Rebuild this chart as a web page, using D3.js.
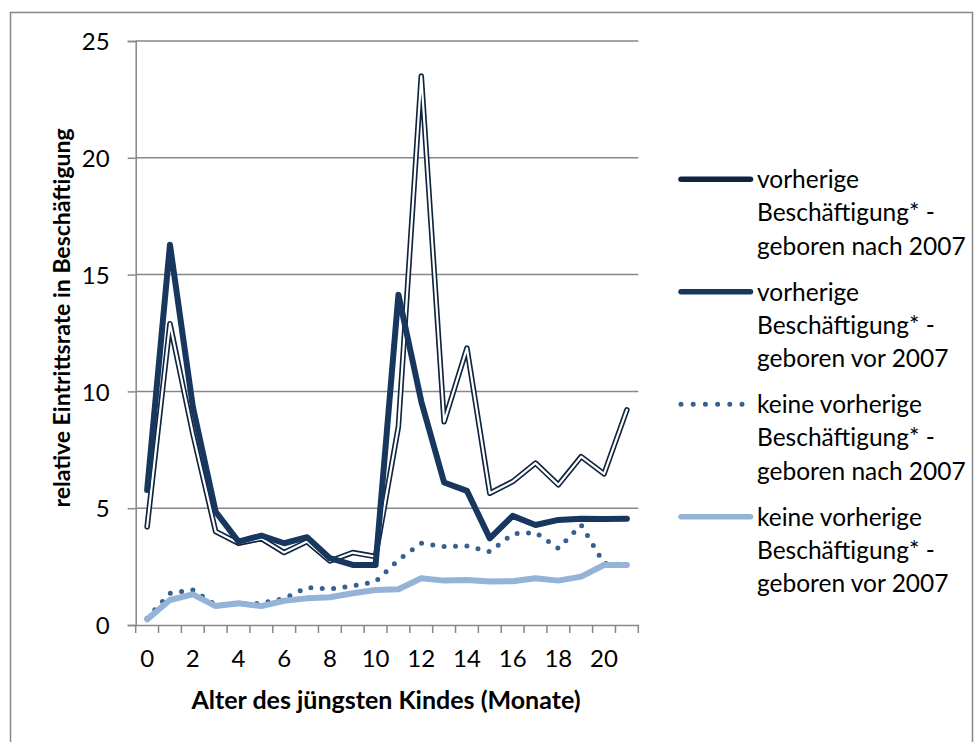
<!DOCTYPE html>
<html>
<head>
<meta charset="utf-8">
<script src="https://cdn.jsdelivr.net/npm/d3@7"></script>
<style>
  body { margin: 0; background: #fff; }
  svg text { font-family: Lato, "Open Sans", sans-serif; fill: #000; }
</style>
</head>
<body>
<div class="chart"></div>
<script>
// Alter des jüngsten Kindes in Monaten
var months = d3.range(0, 22);
var tickLabels = [0, 2, 4, 6, 8, 10, 12, 14, 16, 18, 20];
var yTicks = [0, 5, 10, 15, 20, 25];

var seriesNames = [
    ["vorherige", "Beschäftigung* -", "geboren nach 2007"],
    ["vorherige", "Beschäftigung* -", "geboren vor 2007"],
    ["keine vorherige", "Beschäftigung* -", "geboren nach 2007"],
    ["keine vorherige", "Beschäftigung* -", "geboren vor 2007"]
];

var vorherNach = [4.2, 12.9, 8.2, 4.0, 3.5, 3.7, 3.1, 3.57, 2.74, 3.1, 2.93,
                  8.5, 23.5, 8.7, 11.85, 5.64, 6.14, 6.93, 6.0, 7.21, 6.47, 9.21];
var vorherVor = [5.78, 16.28, 9.35, 4.85, 3.57, 3.83, 3.5, 3.76, 2.86, 2.57, 2.57,
                 14.14, 9.57, 6.1, 5.74, 3.71, 4.67, 4.28, 4.5, 4.55, 4.54, 4.55];
var keineNach = [0.29, 1.36, 1.5, 0.86, 0.9, 0.93, 1.14, 1.6, 1.54, 1.67, 1.86,
                 2.78, 3.5, 3.36, 3.38, 3.14, 3.9, 3.96, 3.28, 4.28, 2.64, 2.57];
var keineVor = [0.24, 1.07, 1.31, 0.81, 0.93, 0.81, 1.04, 1.14, 1.19, 1.36, 1.5,
                1.53, 2.0, 1.9, 1.93, 1.86, 1.87, 2.0, 1.9, 2.07, 2.57, 2.57];

var dim = {
    width: 979, height: 742,
    plot: { left: 135.7, right: 638.3, top: 41, bottom: 625 }
};

var svg = d3.select(".chart").append("svg")
    .attr("width", dim.width)
    .attr("height", dim.height);

svg.append("rect")
    .attr("width", dim.width).attr("height", dim.height)
    .attr("fill", "#fff");

svg.append("rect")
    .attr("x", 10.5).attr("y", 12.5)
    .attr("width", 962).attr("height", 760)
    .attr("fill", "none")
    .attr("stroke", "#868686")
    .attr("stroke-width", 1.5);

var x = d3.scaleBand()
    .domain(months)
    .range([dim.plot.left, dim.plot.right])
    .padding(0);

var y = d3.scaleLinear()
    .domain([0, 25])
    .range([dim.plot.bottom, dim.plot.top]);

var cx = function(d, i) { return x(months[i]) + x.bandwidth() / 2; };

// gridlines
svg.append("g")
    .attr("class", "grid")
    .selectAll("line")
    .data(yTicks.filter(function(d) { return d > 0; }))
    .enter().append("line")
    .attr("x1", dim.plot.left)
    .attr("x2", dim.plot.right)
    .attr("y1", function(d) { return y(d); })
    .attr("y2", function(d) { return y(d); })
    .attr("stroke", "#878787")
    .attr("stroke-width", 1.5);

// y axis
var yAxis = d3.axisLeft(y)
    .tickValues(yTicks)
    .tickSize(8)
    .tickPadding(18);

var gy = svg.append("g")
    .attr("class", "y axis")
    .attr("transform", "translate(" + dim.plot.left + ",0)")
    .call(yAxis);

// x axis: ticks between categories, labels on even months
var xAxis = d3.axisBottom(x)
    .tickValues(tickLabels)
    .tickSize(0)
    .tickPadding(25);

var gx = svg.append("g")
    .attr("class", "x axis")
    .attr("transform", "translate(0," + dim.plot.bottom + ")")
    .call(xAxis);

gx.selectAll(".tick-edge")
    .data(months.concat([months.length]))
    .enter().append("line")
    .attr("class", "tick-edge")
    .attr("x1", function(d) { return d < months.length ? x(d) : dim.plot.right; })
    .attr("x2", function(d) { return d < months.length ? x(d) : dim.plot.right; })
    .attr("y1", 0)
    .attr("y2", 8);

svg.selectAll(".axis path.domain, .axis line")
    .attr("stroke", "#878787")
    .attr("stroke-width", 1.5);

svg.selectAll(".axis text")
    .style("font-size", "24px")
    .style("font-family", "Lato, sans-serif")
    .attr("fill", "#000");

gy.selectAll("text").attr("dy", "0.36em");
gx.selectAll("text").attr("dy", "0.7em");

// axis titles
svg.append("text")
    .attr("x", (dim.plot.left + dim.plot.right) / 2 - 1)
    .attr("y", 709)
    .attr("text-anchor", "middle")
    .style("font-weight", "bold")
    .style("font-size", "25px")
    .text("Alter des jüngsten Kindes (Monate)");

svg.append("text")
    .attr("transform", "translate(70,318) rotate(-90)")
    .attr("text-anchor", "middle")
    .style("font-weight", "bold")
    .style("font-size", "23px")
    .text("relative Eintrittsrate in Beschäftigung");

var line = d3.line()
    .x(cx)
    .y(function(d) { return y(d); });

var lines = svg.append("g").attr("class", "lines")
    .attr("fill", "none")
    .attr("stroke-linejoin", "round")
    .attr("stroke-linecap", "round");

// double line (compound)
lines.append("path").datum(vorherNach)
    .attr("d", line)
    .attr("stroke", "#0f243e")
    .attr("stroke-width", 5.5);
lines.append("path").datum(vorherNach)
    .attr("d", line)
    .attr("stroke", "#fff")
    .attr("stroke-width", 2.2);

lines.append("path").datum(vorherVor)
    .attr("d", line)
    .attr("stroke", "#17375e")
    .attr("stroke-width", 6);

lines.append("path").datum(keineNach)
    .attr("d", line)
    .attr("stroke", "#376092")
    .attr("stroke-width", 5)
    .attr("stroke-dasharray", "0 11.4");

lines.append("path").datum(keineVor)
    .attr("d", line)
    .attr("stroke", "#95b3d7")
    .attr("stroke-width", 6);

// legend
var legendStyles = [
    { stroke: "#0f243e", width: 5.5, dash: null },
    { stroke: "#17375e", width: 5.5, dash: null },
    { stroke: "#376092", width: 5, dash: "0 12.2" },
    { stroke: "#95b3d7", width: 5.5, dash: null }
];

var legend = svg.append("g").attr("class", "legend");

var item = legend.selectAll("g")
    .data(seriesNames)
    .enter().append("g")
    .attr("transform", function(d, i) { return "translate(0," + (179.3 + i * 112.5) + ")"; });

item.append("line")
    .attr("x1", 681).attr("x2", 750.5)
    .attr("y1", 0).attr("y2", 0)
    .attr("stroke", function(d, i) { return legendStyles[i].stroke; })
    .attr("stroke-width", function(d, i) { return legendStyles[i].width; })
    .attr("stroke-dasharray", function(d, i) { return legendStyles[i].dash; })
    .attr("stroke-linecap", "round");

item.append("text")
    .attr("x", 757)
    .style("font-size", "24.5px")
    .selectAll("tspan")
    .data(function(d) { return d; })
    .enter().append("tspan")
    .attr("x", 757)
    .attr("y", function(d, i) { return i * 33.3; })
    .attr("dy", "0.36em")
    .text(function(d) { return d; });
</script>
</body>
</html>
